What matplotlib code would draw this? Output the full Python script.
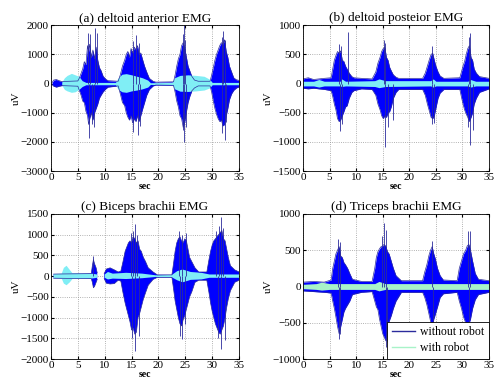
import numpy as np
import matplotlib
matplotlib.use('Agg')
import matplotlib.pyplot as plt

plt.rcParams['font.family'] = ['Liberation Serif', 'DejaVu Serif']

nan = np.nan

# ---- (a) deltoid anterior: envelope knots of the "without robot" signal ----
a_t = [0.2, 0.5, 1.0, 1.5, 2.0, 5.0, 5.3, 5.6, 5.9, 6.2, 6.5, 6.8, 7.0, 7.2, 7.5, 7.8, 8.1, 8.4, 8.7,
       9.0, 9.3, 9.7, 10.2, 10.6, 12.5, 12.9, 13.3, 13.7, 14.0, 14.3, 14.6, 14.9, 15.2, 15.5, 15.8,
       16.1, 16.4, 16.7, 17.0, 17.4, 17.8, 18.3, 19.0, 19.5, 22.8, 23.1, 23.4, 23.7, 24.0, 24.3,
       24.6, 24.9, 25.2, 25.5, 25.8, 26.2, 26.7, 27.4, 29.6, 29.9, 30.2, 30.5, 30.8, 31.1, 31.4,
       31.7, 32.0, 32.3, 32.6, 32.9, 33.2, 33.6, 34.0, 34.5, 35.0]
a_up = [30, 120, 140, 100, 70, 90, 200, 350, 500, 750, 650, 1300, 1100, 1350, 900, 1150, 850, 1250, 800,
        550, 450, 250, 150, 100, 80, 300, 600, 800, 1000, 1100, 900, 1200, 1050, 1250, 1150,
        1300, 1000, 1050, 850, 600, 400, 180, 80, 50, 60, 300, 600, 850, 1000, 1300,
        1400, 1200, 900, 600, 450, 250, 120, 80, 80, 300, 550, 800, 1000, 1150, 1300,
        1400, 1350, 1500, 1100, 900, 600, 400, 200, 130, 110]
a_lo = [-30, -90, -120, -90, -70, -90, -250, -400, -600, -650, -950, -1100, -1400, -1200, -1000, -1250, -1000, -850, -700,
        -500, -400, -280, -180, -120, -80, -350, -650, -750, -1000, -1150, -1250, -1100, -1350, -1200, -1300,
        -1100, -1300, -1100, -900, -650, -400, -200, -80, -50, -60, -300, -600, -800, -1100, -1200,
        -1500, -1300, -950, -650, -450, -250, -150, -80, -80, -300, -600, -850, -1050, -1200, -1300,
        -1250, -1450, -1400, -1100, -850, -550, -350, -230, -150, -110]
a_spk_t = [6.9, 7.2, 8.2, 8.5, 7.1, 7.6, 8.0, 15.2, 15.9, 16.3, 15.3, 16.1, 16.6,
           24.6, 24.8, 25.0, 24.6, 24.8, 25.1, 31.8, 32.1, 32.4, 31.9, 32.3, 32.6]
a_spk_v = [1750, 1700, 1900, 1750, -1850, -1400, -1500, 1450, 1650, 1400, -1650, -1750, -1450,
           1700, 2000, 1500, -1600, -2000, -1500, 1600, 1800, 1500, -1700, -1950, -1300]
# "with robot"
a_ct = [2.0, 2.5, 3.0, 3.8, 4.5, 5.2, 5.8, 6.5, 12.0, 12.5, 13.2, 14.0, 15.0, 16.0, 17.0, 18.0, 18.5,
        22.5, 23.0, 24.0, 25.5, 27.0, 28.5, 29.5, 30.0, 35.0]
a_cup = [50, 200, 280, 350, 300, 250, 100, 40, 40, 200, 320, 340, 300, 250, 200, 120, 30,
         40, 200, 280, 300, 280, 250, 150, 40, 40]
a_clo = [-50, -200, -250, -300, -280, -200, -100, -40, -40, -200, -280, -300, -250, -220, -180, -120, -30,
         -40, -180, -260, -270, -250, -220, -150, -40, -40]

# ---- (b) deltoid posterior ----
b_t = [0.0, 1.0, 2.0, 4.0, 5.3, 5.6, 5.9, 6.2, 6.5, 6.8, 7.1, 7.4, 7.7, 8.0, 8.3, 8.7, 9.2, 9.6, 11.0,
       13.0, 13.7, 14.1, 14.5, 14.8, 15.1, 15.4, 15.7, 16.0, 16.3, 16.6, 17.0, 17.5, 18.0,
       22.5, 23.0, 23.4, 23.8, 24.1, 24.4, 24.7, 25.0, 25.4, 25.8, 26.5,
       29.5, 29.8, 30.1, 30.4, 30.7, 31.0, 31.3, 31.6, 31.9, 32.2, 32.6, 33.2, 35.0]
b_up = [80, 100, 70, 90, 100, 250, 400, 480, 550, 520, 560, 400, 380, 300, 250, 180, 120, 100, 90,
        80, 200, 350, 450, 550, 600, 620, 450, 400, 280, 220, 150, 110, 90,
        90, 180, 300, 420, 500, 520, 400, 300, 200, 130, 90,
        100, 200, 300, 380, 500, 600, 650, 450, 400, 250, 180, 120, 90]
b_lo = [-80, -90, -80, -100, -120, -220, -350, -450, -600, -650, -620, -550, -480, -400, -380, -250, -150, -120, -90,
        -100, -200, -350, -450, -550, -600, -550, -580, -500, -480, -400, -250, -150, -100,
        -100, -200, -350, -480, -580, -600, -550, -420, -250, -160, -100,
        -100, -230, -350, -450, -520, -580, -650, -580, -500, -350, -250, -150, -90]
b_spk_t = [6.8, 7.2, 8.5, 6.9, 7.3, 15.2, 15.5, 15.5, 16.0, 17.0, 24.3, 24.2, 24.6,
           31.2, 31.4, 31.4, 31.0, 32.0]
b_spk_v = [680, 650, 885, -820, -700, 740, 700, -1090, -750, -630, 650, -690, -680,
           800, 860, -1060, -740, -800]
b_ct = [0.0, 2.0, 3.0, 4.0, 7.0, 7.3, 8.0, 13.5, 14.3, 15.5, 24.0, 24.5, 25.0, 31.0, 31.5, 32.5, 35.0]
b_cup = [40, 40, 70, 40, 40, 80, 40, 50, 80, 50, 50, 80, 40, 40, 70, 40, 40]
b_clo = [-40, -40, -60, -40, -40, -50, -40, -50, -70, -50, -40, -60, -40, -40, -60, -40, -40]

# ---- (c) biceps brachii ----
c_t = [0.5, 7.5, 7.7, 7.9, 8.1, 8.4, 8.6, 8.9, 9.6, 9.9, 10.3, 11.0, 11.8, 12.5,
       13.0, 13.4, 13.8, 14.1, 14.4, 14.7, 15.0, 15.3, 15.6, 15.9, 16.2, 16.5, 16.8, 17.2, 17.6,
       18.1, 19.0, 19.8, 22.5, 22.8, 23.1, 23.4, 23.7, 24.0, 24.3, 24.6, 24.9, 25.2, 25.5, 25.8,
       26.2, 26.8, 27.5, 29.0, 29.4, 29.7, 30.0, 30.3, 30.6, 30.9, 31.2, 31.5, 31.8, 32.1, 32.4,
       32.7, 33.0, 33.4, 34.2, 35.0]
c_up = [50, 60, 250, 400, 300, 200, 80, nan, nan, 60, 170, 200, 150, 100,
        120, 350, 600, 700, 800, 850, 800, 950, 900, 800, 850, 650, 600, 450, 350,
        200, 100, 30, 30, 300, 600, 800, 900, 950, 850, 800, 900, 850, 650, 450,
        350, 200, 100, 100, 400, 600, 750, 850, 900, 950, 1000, 1050, 1100, 900, 850,
        650, 450, 250, 150, 100]
c_lo = [-50, -60, -150, -280, -250, -150, -80, nan, nan, -60, -170, -190, -180, -100,
        -120, -400, -650, -800, -950, -1100, -1300, -1250, -1400, -1350, -1000, -900, -750, -550, -400,
        -220, -80, -30, -30, -300, -600, -800, -1000, -1150, -1200, -1050, -950, -800, -650, -500,
        -380, -150, -100, -100, -400, -650, -850, -1000, -1150, -1250, -1350, -1400, -1300, -1200, -1000,
        -750, -550, -350, -150, -100]
c_spk_t = [7.9, 14.8, 15.3, 15.6, 16.0, 15.0, 15.7, 16.3, 23.9, 24.4, 25.1, 24.0, 24.3, 25.0,
           30.7, 31.3, 31.7, 32.1, 31.1, 31.6, 32.3]
c_spk_v = [490, 1050, 1100, 1250, 1000, -1500, -1800, -1450, 1100, 1000, 1050, -1450, -1520, -1150,
           1100, 1200, 1420, 1150, -1500, -1760, -1550]
c_ct = [0.5, 2.0, 2.4, 2.9, 3.5, 4.0, 7.5, 8.6, 8.9, 9.6, 10.0, 10.6, 11.5, 14.0, 17.0, 19.5,
        22.5, 23.5, 24.5, 26.0, 28.0, 29.5, 35.0]
c_cup = [50, 60, 200, 250, 150, 70, 60, 40, nan, nan, 40, 100, 60, 80, 60, 20,
         30, 120, 160, 100, 80, 40, 40]
c_clo = [-50, -60, -180, -220, -150, -70, -60, -40, nan, nan, -40, -80, -60, -70, -50, -20,
         -30, -100, -150, -90, -80, -40, -40]

# ---- (d) triceps brachii ----
d_t = [0.0, 2.0, 4.0, 5.3, 5.6, 5.9, 6.2, 6.5, 6.8, 7.1, 7.4, 7.7, 8.0, 8.4, 8.8, 9.3, 11.0,
       13.0, 13.5, 13.8, 14.1, 14.4, 14.7, 15.0, 15.3, 15.6, 15.9, 16.2, 16.6, 17.0, 17.5, 18.5,
       22.5, 22.9, 23.3, 23.7, 24.0, 24.3, 24.6, 24.9, 25.3, 25.8, 26.4,
       29.0, 29.4, 29.8, 30.2, 30.6, 30.9, 31.2, 31.5, 31.9, 32.4, 33.0, 35.0]
d_up = [60, 70, 60, 90, 250, 350, 450, 500, 550, 420, 400, 330, 300, 250, 180, 100, 70,
        70, 250, 400, 480, 520, 550, 560, 580, 550, 480, 450, 350, 250, 150, 80,
        80, 200, 300, 430, 500, 550, 450, 380, 250, 150, 90,
        80, 250, 350, 450, 500, 560, 580, 500, 350, 180, 100, 80]
d_lo = [-60, -70, -80, -90, -200, -300, -420, -550, -650, -550, -450, -350, -300, -250, -200, -110, -80,
        -70, -200, -280, -320, -450, -550, -650, -700, -750, -600, -480, -400, -300, -200, -80,
        -80, -150, -250, -380, -480, -560, -450, -380, -280, -150, -100,
        -80, -200, -300, -420, -500, -580, -520, -450, -300, -180, -110, -80]
d_spk_t = [6.6, 6.9, 6.8, 7.0, 14.8, 15.3, 15.6, 15.6, 15.9, 24.2, 24.4, 31.0, 31.5, 31.2]
d_spk_v = [650, 620, -720, -650, 700, 880, 780, -840, -760, 630, -630, 760, 760, -650]
d_ct = [0.0, 2.5, 3.5, 5.0, 13.5, 14.3, 15.5, 35.0]
d_cup = [30, 40, 60, 40, 40, 70, 40, 40]
d_clo = [-30, -40, -50, -40, -40, -60, -40, -40]

panels = [
    ('(a) deltoid anterior EMG', a_t, a_up, a_lo, a_spk_t, a_spk_v, a_ct, a_cup, a_clo,
     (-3000, 2000), np.arange(-3000, 2001, 1000), '#80eef5'),
    ('(b) deltoid posteior EMG', b_t, b_up, b_lo, b_spk_t, b_spk_v, b_ct, b_cup, b_clo,
     (-1500, 1000), np.arange(-1500, 1001, 500), '#80eef5'),
    ('(c) Biceps brachii EMG', c_t, c_up, c_lo, c_spk_t, c_spk_v, c_ct, c_cup, c_clo,
     (-2000, 1500), np.arange(-2000, 1501, 500), '#80eef5'),
    ('(d) Triceps brachii EMG', d_t, d_up, d_lo, d_spk_t, d_spk_v, d_ct, d_cup, d_clo,
     (-1000, 1000), np.arange(-1000, 1001, 500), '#a8f3c8'),
]

fig = plt.figure(figsize=(4.95, 3.82), dpi=100)
boxes = [[0.103, 0.552, 0.380, 0.382], [0.612, 0.552, 0.376, 0.382],
         [0.103, 0.060, 0.380, 0.380], [0.612, 0.060, 0.376, 0.380]]
navy = '#2b2b9c'

for box, (title, t, up, lo, st, sv, ct, cup, clo, ylim, yticks, ccol) in zip(boxes, panels):
    ax = fig.add_axes(box)
    t = np.array(t); up = np.array(up, float); lo = np.array(lo, float)
    ax.fill_between(t, lo, up, color='blue', lw=0)
    ax.plot(t, up, color=navy, lw=0.5)
    ax.plot(t, lo, color=navy, lw=0.5)
    ax.vlines(st, 0, sv, color=navy, lw=0.6)
    ax.plot([], [], color=navy, lw=1, label='without robot')
    ax.fill_between(ct, clo, cup, color=ccol, lw=0)
    ax.plot([], [], color=ccol, lw=1, label='with robot')
    ax.set_xlim(0, 35)
    ax.set_ylim(*ylim)
    ax.set_xticks(range(0, 36, 5))
    ax.set_yticks(yticks)
    ax.tick_params(direction='in', length=2, labelsize=8, pad=1.5, top=True, right=True)
    ax.grid(True, linestyle=':', color='#999999', lw=0.6)
    ax.set_axisbelow(True)
    ax.set_title(title, fontsize=9.5, pad=3)
    ax.set_xlabel('sec', fontsize=7, fontweight='bold', labelpad=0)
    ax.set_ylabel('uV', fontsize=8, labelpad=0)
    for s in ax.spines.values():
        s.set_linewidth(0.6)

leg = ax.legend(loc='lower right', fontsize=8.5, borderaxespad=0, fancybox=False,
                framealpha=1, edgecolor='black', handlelength=2.0, borderpad=0.4,
                labelspacing=0.35, handletextpad=0.4)
leg.get_frame().set_linewidth(0.6)

fig.savefig('out.png', dpi=100)
